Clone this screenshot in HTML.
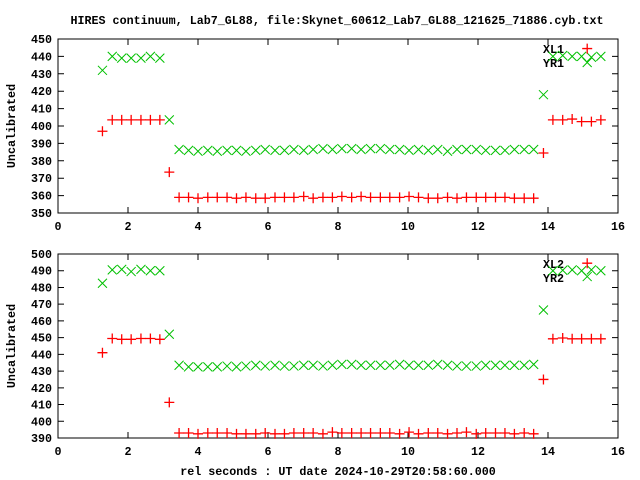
<!DOCTYPE html>
<html><head><meta charset="utf-8">
<style>
html,body{margin:0;padding:0;background:#fff;}
svg{display:block;font-family:"Liberation Mono",monospace;font-weight:bold;font-size:11.7px;}
</style></head>
<body>
<svg id="chart" width="640" height="480" viewBox="0 0 640 480" xmlns="http://www.w3.org/2000/svg">
<rect width="640" height="480" fill="#fff"/>
<text x="337" y="24" text-anchor="middle">HIRES continuum, Lab7_GL88, file:Skynet_60612_Lab7_GL88_121625_71886.cyb.txt</text>
<text x="338" y="475" text-anchor="middle">rel seconds : UT date 2024-10-29T20:58:60.000</text>
<g id="top"></g>
<g id="bot"></g>
</svg>
<script>
const xs=[1.27,1.55,1.82,2.09,2.37,2.64,2.91,3.18,3.46,3.73,4.00,4.28,4.55,4.83,5.10,5.37,5.65,5.92,6.20,6.47,6.74,7.02,7.29,7.57,7.84,8.11,8.39,8.66,8.93,9.21,9.48,9.76,10.03,10.30,10.58,10.85,11.13,11.40,11.67,11.95,12.22,12.50,12.77,13.04,13.32,13.59,13.87,14.14,14.42,14.69,14.96,15.12,15.24,15.51];
const topRed=[397,403.5,403.5,403.5,403.5,403.5,403.5,373.5,
359,359,358.5,359,359,359,358.5,359,358.5,358.5,359,359,359,359.5,358.5,359,359,359.5,359,359.5,359,359,359,359,359.5,359,358.5,358.5,359,358.5,359,359,359,359,359,358.5,358.5,358.5,
384.5,403.5,403.5,404,402.5,444.5,402.5,403.5];
const topGreen=[432,440,439,439,439,440,439,403.5,
386.5,386,385.5,386,385.5,386,386,385.5,386,386.5,386,386,386.5,386,386.5,387,386.5,387,387,386.5,387,387,386.5,386.5,386,386.5,386,386.5,385.5,386.5,386.5,386.5,386,386,386,386.5,386.5,386.5,
418,440,440.5,440,440,436.5,439.5,440];
const botRed=[441,449.5,449,449,449.5,449.5,449,411.3,
393,393,392.5,393,393,393,392.5,392.5,392.5,393,392.5,392.5,393,393,393,392.5,393.5,393,393,393,393,393,393,392.5,393.5,392.5,393,393,392.5,393,393.5,392.5,393,393,393,392.5,393,392.5,
425,449.3,449.8,449.3,449.3,494.5,449.3,449.3];
const botGreen=[482.5,490.5,490.8,489.5,490.8,490,490,452,
433.5,432.5,432.5,432.5,432.5,433,432.5,433,433.5,433,433.5,433,433,433.5,433.5,433,433.5,434,434,433.5,433.5,433.5,433.5,434,433.5,433.5,433.5,434,433.5,433,433,433,433.5,433.5,433.5,433.5,433.5,434,
466.5,490,490.3,490.5,490,486.5,490.5,490];
const xTicks=[0,2,4,6,8,10,12,14,16];
const topYTicks=[350,360,370,380,390,400,410,420,430,440,450];
const botYTicks=[390,400,410,420,430,440,450,460,470,480,490,500];
const NS="http://www.w3.org/2000/svg";
function mk(tag,attrs,parent){const e=document.createElementNS(NS,tag);for(const k in attrs)e.setAttribute(k,attrs[k]);parent.appendChild(e);return e;}
function panel(g,top,bot,ymin,ymax,yticks,red,green,k1,k2){
  const L=58,R=618;
  const sx=v=>L+(v-0)/16*(R-L);
  const sy=v=>bot-(v-ymin)/(ymax-ymin)*(bot-top);
  const fr=mk('rect',{x:L,y:top,width:R-L,height:bot-top,fill:'none',stroke:'#000','stroke-width':1},g);
  
  
  xTicks.forEach(t=>{
    const x=sx(t);
    const l1=mk('path',{d:`M${x} ${bot}v-6M${x} ${top}v6`,stroke:'#000','stroke-width':1},g);
    
    
    const tx=mk('text',{x:x,y:bot+17,'text-anchor':'middle'},g);
    tx.textContent=t;
    
    
  });
  yticks.forEach(t=>{
    const y=sy(t);
    const l1=mk('path',{d:`M${L} ${y}h6M${R} ${y}h-6`,stroke:'#000','stroke-width':1},g);
    
    
    const tx=mk('text',{x:52,y:y+4,'text-anchor':'end'},g);
    tx.textContent=t;
    
    
  });
  const yl=mk('text',{x:0,y:0,'text-anchor':'middle',transform:`translate(15 ${(top+bot)/2}) rotate(-90)`},g);
  yl.textContent='Uncalibrated';
  
  
  const t1=mk('text',{x:543,y:top+14},g);t1.textContent=k1;
  
  
  const t2=mk('text',{x:543,y:top+28},g);t2.textContent=k2;
  
  
  green.forEach((v,i)=>{
    const x=sx(xs[i]),y=sy(v);
    const p=mk('path',{d:`M${x-4.5} ${y-4.5}L${x+4.5} ${y+4.5}M${x-4.5} ${y+4.5}L${x+4.5} ${y-4.5}`,stroke:'#00c000','stroke-width':1,fill:'none'},g);
    
    
  });
  red.forEach((v,i)=>{
    const x=sx(xs[i]),y=sy(v);
    const p=mk('path',{d:`M${x-5} ${y}H${x+5}M${x} ${y-5}V${y+5}`,stroke:'#ff0000','stroke-width':1.3,fill:'none'},g);
    
    
  });
}
panel(document.getElementById('top'),39,213,350,450,topYTicks,topRed,topGreen,'XL1','YR1');
panel(document.getElementById('bot'),254,438,390,500,botYTicks,botRed,botGreen,'XL2','YR2');
</script>
</body></html>
